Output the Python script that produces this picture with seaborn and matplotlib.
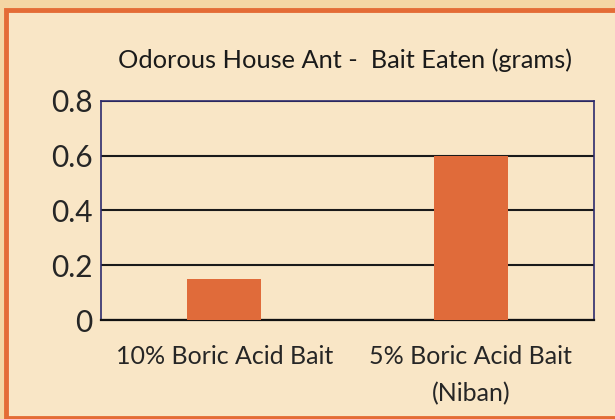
import matplotlib
matplotlib.use("Agg")
import matplotlib.pyplot as plt
import seaborn as sns
import pandas as pd
from matplotlib.patches import Rectangle

categories = ["10% Boric Acid Bait", "5% Boric Acid Bait\n(Niban)"]
bait_eaten = [0.15, 0.6]
yticks = [0, 0.2, 0.4, 0.6, 0.8]
ytick_labels = ["0", "0.2", "0.4", "0.6", "0.8"]

df = pd.DataFrame({"bait": categories, "grams": bait_eaten})

sns.set_style("white")
plt.rcParams["font.family"] = ["Lato", "DejaVu Sans"]

bg = "#f9e6c6"
fig = plt.figure(figsize=(6.15, 4.19), dpi=100, facecolor="#f4d6a4")
# orange framed slide panel, behind the axes
fig.patches.append(Rectangle((6 / 615, 1 / 419), 1.2, 1 - 11 / 419,
                             transform=fig.transFigure, facecolor=bg,
                             edgecolor="#e46c36", linewidth=3.5, zorder=-5))

ax = fig.add_axes([101 / 615, 99 / 419, 493 / 615, 219 / 419])
ax.set_facecolor(bg)
sns.barplot(data=df, x="bait", y="grams", color="#e06b3a", width=0.3,
            saturation=1, linewidth=0, ax=ax, zorder=3)

ax.set_ylim(0, 0.8)
ax.set_yticks(yticks)
ax.set_yticklabels(ytick_labels, fontsize=21.5)
ax.tick_params(axis="y", length=0, pad=6)
ax.tick_params(axis="x", length=0, pad=18, labelsize=18)
ax.set_xlabel("")
ax.set_ylabel("")
for t in ax.get_xticklabels():
    t.set_horizontalalignment("center")
    t.set_multialignment("center")
    t.set_linespacing(1.7)
ax.yaxis.grid(True, color="#1a1a1a", linewidth=1.5, zorder=1)
ax.set_axisbelow(True)
for s in ["left", "top", "right"]:
    ax.spines[s].set_color("#2e2b6e")
    ax.spines[s].set_linewidth(1.2)
ax.spines["bottom"].set_color("#111111")
ax.spines["bottom"].set_linewidth(1.6)

fig.text(345 / 615, 1 - 60 / 419, "Odorous House Ant -  Bait Eaten (grams)",
         ha="center", va="center", fontsize=18.3, color="#1a1a1a")

fig.savefig("out.png", dpi=100, facecolor=fig.get_facecolor())
